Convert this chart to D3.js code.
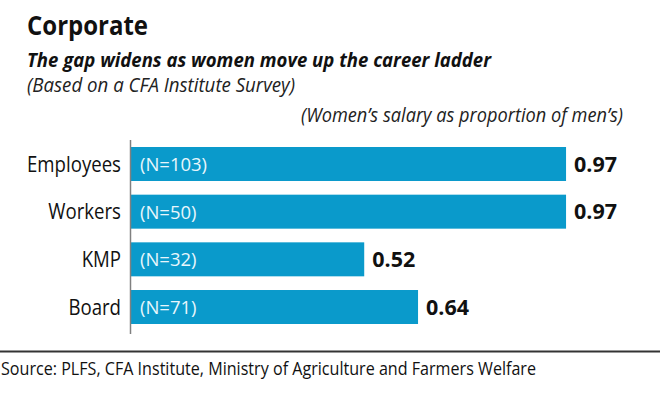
<!DOCTYPE html>
<html>
<head>
<meta charset="utf-8">
<script src="https://cdn.jsdelivr.net/npm/d3@7"></script>
<style>
  html, body { margin: 0; padding: 0; background: #fff; }
  svg { display: block; }
  text { font-family: "Open Sans", "Noto Sans", sans-serif; }
</style>
</head>
<body>
<svg id="chart" width="660" height="401"></svg>
<script>
// ---- data ----
const categories = ["Employees", "Workers", "KMP", "Board"];
const values = [0.97, 0.97, 0.52, 0.64];
const sampleLabels = ["(N=103)", "(N=50)", "(N=32)", "(N=71)"];
const titleText = "Corporate";
const subtitleText = "The gap widens as women move up the career ladder";
const noteText = "(Based on a CFA Institute Survey)";
const unitText = "(Women\u2019s salary as proportion of men\u2019s)";
const sourceText = "Source: PLFS, CFA Institute, Ministry of Agriculture and Farmers Welfare";

const rows = categories.map((c, i) => ({ cat: c, value: values[i], n: sampleLabels[i] }));

const svg = d3.select("#chart");
const W = 660, H = 401;
svg.append("rect").attr("width", W).attr("height", H).attr("fill", "#fff");

// helper to squeeze text to a measured width
function fitWidth(sel, w) {
  sel.attr("textLength", w).attr("lengthAdjust", "spacingAndGlyphs");
}

// ---- header ----
svg.append("text").attr("x", 27).attr("y", 35)
  .attr("font-size", 26).attr("font-weight", 700).attr("fill", "#111")
  .text(titleText).call(fitWidth, 121);

svg.append("text").attr("x", 27).attr("y", 67)
  .attr("font-size", 19).attr("font-weight", 700).attr("font-style", "italic").attr("fill", "#111")
  .text(subtitleText).call(fitWidth, 464);

svg.append("text").attr("x", 27).attr("y", 92)
  .attr("font-size", 20).attr("font-weight", 400).attr("font-style", "italic").attr("fill", "#222")
  .text(noteText).call(fitWidth, 268);

svg.append("text").attr("x", 301).attr("y", 122)
  .attr("font-size", 20).attr("font-weight", 400).attr("font-style", "italic").attr("fill", "#222")
  .text(unitText).call(fitWidth, 322);

// ---- scales ----
const x = d3.scaleLinear().domain([0, 1]).range([131, 579.5]);
const y = d3.scaleBand().domain(categories).range([147, 324]).paddingInner(0.287).paddingOuter(0);

// ---- bars ----
svg.append("g").selectAll("rect").data(rows).join("rect")
  .attr("x", x(0))
  .attr("y", d => y(d.cat))
  .attr("width", d => x(d.value) - x(0))
  .attr("height", y.bandwidth())
  .attr("fill", "#0a9acb");

// axis line
svg.append("line")
  .attr("x1", x(0) - 0.5).attr("x2", x(0) - 0.5)
  .attr("y1", y.range()[0] - 7).attr("y2", y.range()[1] + 10)
  .attr("stroke", "#808080").attr("stroke-width", 1.5);

// category labels (common horizontal squeeze measured from "Employees")
const catG = svg.append("g");
const catTexts = catG.selectAll("text").data(rows).join("text")
  .attr("x", 121)
  .attr("y", d => y(d.cat) + y.bandwidth() / 2)
  .attr("dy", "0.36em")
  .attr("text-anchor", "end")
  .attr("font-size", 21).attr("fill", "#111")
  .text(d => d.cat);
const empW = catTexts.filter(d => d.cat === "Employees").node().getComputedTextLength();
const catF = 94 / empW;
catTexts.each(function() {
  const w = this.getComputedTextLength();
  d3.select(this).call(fitWidth, w * catF);
});

// N labels inside bars
const nTexts = svg.append("g").selectAll("text").data(rows).join("text")
  .attr("x", x(0) + 9)
  .attr("y", d => y(d.cat) + y.bandwidth() / 2)
  .attr("dy", "0.36em")
  .attr("font-size", 19).attr("fill", "#e8f6fc")
  .text(d => d.n);
const nRef = nTexts.filter(d => d.n === "(N=103)").node().getComputedTextLength();
const nF = 67 / nRef;
nTexts.each(function() {
  d3.select(this).call(fitWidth, this.getComputedTextLength() * nF);
});

// value labels
const fmt = d3.format(".2f");
const vTexts = svg.append("g").selectAll("text").data(rows).join("text")
  .attr("x", d => x(d.value) + 8)
  .attr("y", d => y(d.cat) + y.bandwidth() / 2)
  .attr("dy", "0.36em")
  .attr("font-size", 21).attr("font-weight", 700).attr("fill", "#111")
  .text(d => fmt(d.value));
const vRef = vTexts.node().getComputedTextLength();
const vF = 43 / vRef;
vTexts.each(function() {
  d3.select(this).call(fitWidth, this.getComputedTextLength() * vF);
});

// ---- footer ----
svg.append("line").attr("x1", 0).attr("x2", W).attr("y1", 351.5).attr("y2", 351.5)
  .attr("stroke", "#333").attr("stroke-width", 2);

svg.append("text").attr("x", 1).attr("y", 375)
  .attr("font-size", 18).attr("fill", "#111")
  .text(sourceText).call(fitWidth, 535);
</script>
</body>
</html>
